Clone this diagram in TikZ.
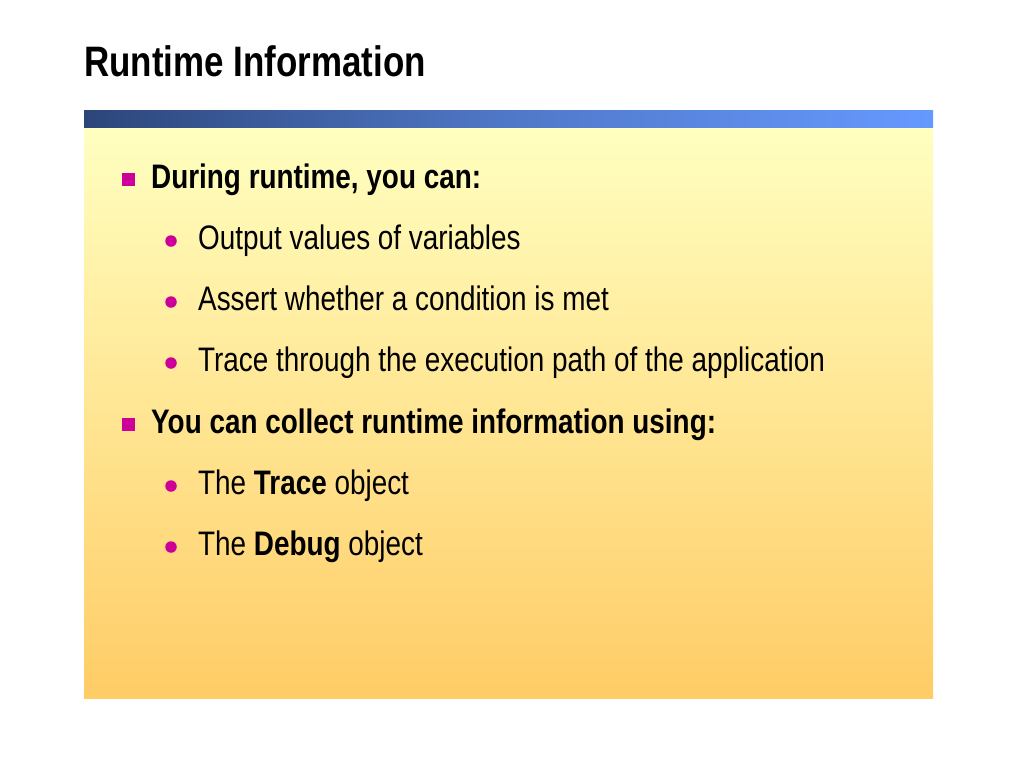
\documentclass[tikz,border=0pt]{standalone}
\usepackage{fontspec}
\setmainfont[FakeStretch=0.82]{Liberation Sans}
\definecolor{bulletmag}{RGB}{204,0,153}
\definecolor{bartop}{RGB}{44,70,122}
\definecolor{barright}{RGB}{102,153,255}
\definecolor{paneltop}{RGB}{255,255,192}
\definecolor{panelbot}{RGB}{255,204,102}
\tikzset{
  lvlone/.style={anchor=base west, inner sep=0pt, font=\fontsize{34}{40}\selectfont\bfseries},
  lvltwo/.style={anchor=base west, inner sep=0pt, font=\fontsize{34}{40}\selectfont},
  sqbullet/.style={rectangle, fill=bulletmag, minimum size=13pt, inner sep=0pt},
  rdbullet/.style={circle, fill=bulletmag, minimum size=11.5pt, inner sep=0pt},
}
\begin{document}
\begin{tikzpicture}[x=1pt,y=-1pt]
\useasboundingbox (0,0) rectangle (1024,768);
\fill[white] (0,0) rectangle (1024,768);
% panel body
\shade[top color=paneltop, bottom color=panelbot] (84,127) rectangle (933,698);
% header bar
\shade[left color=bartop, right color=barright, middle color={rgb,255:red,80;green,120;blue,200}] (84,110) rectangle (933,127);
% title
\node[anchor=base west, inner sep=0pt, font=\fontsize{42.6}{48}\selectfont\bfseries] (title) at (84,76) {Runtime Information};
% level 1
\node[sqbullet] (b1) at (128.5,179.5) {};
\node[lvlone] (t1) at (151,188) {During runtime, you can:};
\node[rdbullet] (b2) at (171,241) {};
\node[lvltwo] (t2) at (198,249) {Output values of variables};
\node[rdbullet] (b3) at (171,302) {};
\node[lvltwo] (t3) at (198,310) {Assert whether a condition is met};
\node[rdbullet] (b4) at (171,363) {};
\node[lvltwo] (t4) at (198,371) {Trace through the execution path of the application};
\node[sqbullet] (b5) at (128.5,424.5) {};
\node[lvlone] (t5) at (151,433) {You can collect runtime information using:};
\node[rdbullet] (b6) at (171,486) {};
\node[lvltwo] (t6) at (198,494) {The \textbf{Trace} object};
\node[rdbullet] (b7) at (171,547) {};
\node[lvltwo] (t7) at (198,555) {The \textbf{Debug} object};
\end{tikzpicture}
\end{document}
